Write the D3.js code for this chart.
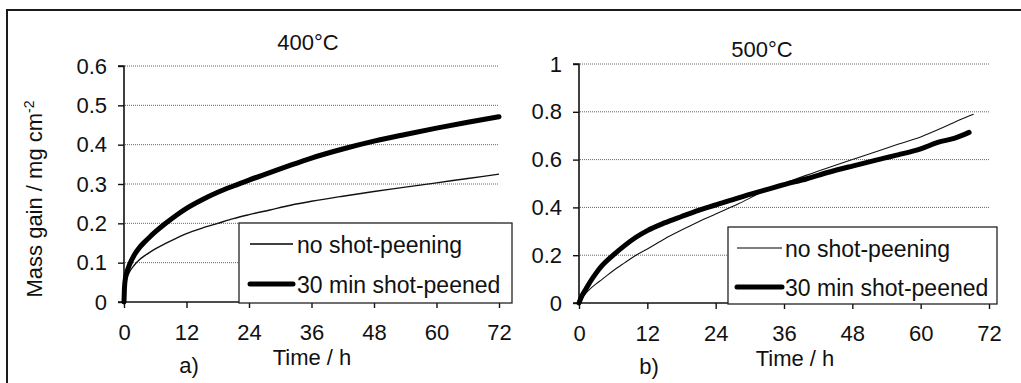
<!DOCTYPE html>
<html><head><meta charset="utf-8">
<script src="https://cdn.jsdelivr.net/npm/d3@7"></script>
<style>
html,body{margin:0;padding:0;background:#fff;}
svg{display:block;font-family:"Liberation Sans",Arial,sans-serif;}
</style></head>
<body>
<svg id="c" width="1021" height="383"></svg>
<script>
// ---------- data ----------
const xTicks = [0, 12, 24, 36, 48, 60, 72];
const yTicksA = [0, 0.1, 0.2, 0.3, 0.4, 0.5, 0.6];
const yTicksB = [0, 0.2, 0.4, 0.6, 0.8, 1];
const seriesNames = ["no shot-peening", "30 min shot-peened"];

// 400°C
const tA_none = [0, 0.1, 0.3, 0.6, 1, 2, 3, 4, 5, 6, 8, 10, 12, 15, 18, 21, 24, 28, 32, 36, 42, 48, 54, 60, 66, 72];
const vA_none = [0, 0.03, 0.05, 0.063, 0.075, 0.094, 0.108, 0.118, 0.127, 0.135, 0.149, 0.162, 0.174, 0.188, 0.2, 0.212, 0.222, 0.234, 0.246, 0.256, 0.269, 0.281, 0.292, 0.303, 0.314, 0.325];
const tA_sp = [0, 0.1, 0.3, 0.6, 1, 2, 3, 4, 5, 6, 8, 10, 12, 15, 18, 21, 24, 28, 32, 36, 42, 48, 54, 60, 66, 72];
const vA_sp = [0, 0.038, 0.062, 0.078, 0.093, 0.12, 0.139, 0.153, 0.166, 0.178, 0.2, 0.22, 0.238, 0.26, 0.279, 0.295, 0.31, 0.329, 0.348, 0.366, 0.389, 0.409, 0.426, 0.442, 0.457, 0.471];

// 500°C
const tB_none = [0, 0.5, 1, 2, 3, 4, 6, 8, 10, 12, 15, 18, 21, 24, 28, 32, 36, 40, 44, 48, 52, 56, 60, 64, 67, 69.3];
const vB_none = [0, 0.02, 0.035, 0.06, 0.08, 0.098, 0.135, 0.168, 0.2, 0.226, 0.268, 0.305, 0.34, 0.372, 0.415, 0.462, 0.5, 0.535, 0.568, 0.6, 0.632, 0.664, 0.695, 0.735, 0.768, 0.79];
const tB_sp = [0, 0.5, 1, 2, 3, 4, 6, 8, 10, 12, 15, 18, 21, 24, 28, 32, 36, 40, 44, 48, 52, 56, 60, 63, 66, 68.5];
const vB_sp = [0, 0.03, 0.05, 0.09, 0.125, 0.155, 0.2, 0.24, 0.275, 0.303, 0.335, 0.362, 0.388, 0.41, 0.44, 0.468, 0.495, 0.52, 0.548, 0.573, 0.597, 0.62, 0.645, 0.672, 0.69, 0.714];

// ---------- drawing ----------
const svg = d3.select("#c");
// outer frame
svg.append("rect").attr("x", 7).attr("y", 10).attr("width", 1040).attr("height", 400)
  .attr("fill", "none").attr("stroke", "#1a1a1a").attr("stroke-width", 2);

function panel(cfg) {
  const x = d3.scaleLinear().domain([0, 72]).range([cfg.x0, cfg.x1]);
  const y = d3.scaleLinear().domain([0, cfg.ymax]).range([cfg.y0, cfg.y1]);
  const g = svg.append("g");

  // gridlines
  g.selectAll("line.grid").data(cfg.yTicks.filter(d => d > 0)).enter().append("line")
    .attr("x1", cfg.x0 + 1).attr("x2", cfg.x1).attr("y1", d => y(d)).attr("y2", d => y(d))
    .attr("stroke", "#666").attr("stroke-width", 1).attr("stroke-dasharray", "1,1");

  // y axis
  const ya = d3.axisLeft(y).tickValues(cfg.yTicks).tickSize(6).tickPadding(11)
    .tickFormat(d => d3.format("")(+d.toFixed(1)));
  const yg = g.append("g").attr("transform", `translate(${cfg.x0},0)`).call(ya);
  // x axis
  const xa = d3.axisBottom(x).tickValues(xTicks).tickSize(6).tickPadding(16).tickFormat(d3.format("d"));
  const xg = g.append("g").attr("transform", `translate(0,${cfg.y0})`).call(xa);
  [yg, xg].forEach(a => {
    a.select(".domain").attr("stroke", "#111").attr("stroke-width", 1.6);
    a.selectAll(".tick line").attr("stroke", "#111").attr("stroke-width", 1.4);
    a.selectAll("text").attr("fill", "#111").style("font-size", "22px").style("font-family", "Liberation Sans, Arial, sans-serif");
  });
  yg.select(".domain").attr("d", `M-6,${cfg.y1}H0V${cfg.y0}`);
  xg.select(".domain").attr("d", `M${cfg.x0 - 6},0H${cfg.x1}`);

  // lines
  const line = d3.line().x(d => x(d[0])).y(d => y(d[1])).curve(d3.curveMonotoneX);
  const dNone = cfg.tNone.map((t, i) => [t, cfg.vNone[i]]);
  const dSp = cfg.tSp.map((t, i) => [t, cfg.vSp[i]]);
  g.append("path").datum(dNone).attr("d", line).attr("fill", "none").attr("stroke", "#111").attr("stroke-width", cfg.thin);
  g.append("path").datum(dSp).attr("d", line).attr("fill", "none").attr("stroke", "#000").attr("stroke-width", 5)
    .attr("stroke-linecap", "round");

  // legend
  const L = cfg.legend;
  g.append("rect").attr("x", L.x).attr("y", L.y).attr("width", L.w).attr("height", L.h)
    .attr("fill", "#fff").attr("stroke", "#222").attr("stroke-width", 1.3);
  const rows = [{w: cfg.thin, ly: L.r1}, {w: 5, ly: L.r2}];
  rows.forEach((r, i) => {
    g.append("line").attr("x1", L.lx0).attr("x2", L.lx1).attr("y1", r.ly).attr("y2", r.ly)
      .attr("stroke", "#000").attr("stroke-width", r.w).attr("stroke-linecap", i ? "round" : "butt");
    g.append("text").attr("x", L.tx).attr("y", r.ly + 9).text(seriesNames[i])
      .style("font-size", "23px").attr("fill", "#111");
  });

  // titles
  g.append("text").attr("x", cfg.title[0]).attr("y", cfg.title[1]).attr("text-anchor", "middle")
    .style("font-size", "22px").attr("fill", "#111").text(cfg.titleText);
  g.append("text").attr("x", cfg.xlab[0]).attr("y", cfg.xlab[1]).attr("text-anchor", "middle")
    .style("font-size", "22px").attr("fill", "#111").text("Time / h");
  g.append("text").attr("x", cfg.tag[0]).attr("y", cfg.tag[1]).attr("text-anchor", "middle")
    .style("font-size", "22px").attr("fill", "#111").text(cfg.tagText);
}

panel({
  x0: 124, x1: 499, y0: 302, y1: 66, ymax: 0.6, yTicks: yTicksA,
  tNone: tA_none, vNone: vA_none, tSp: tA_sp, vSp: vA_sp, thin: 1.4,
  legend: {x: 239, y: 223, w: 273, h: 80, lx0: 250, lx1: 293, r1: 244, r2: 284, tx: 297},
  title: [308, 50], titleText: "400°C", xlab: [312, 365], tag: [189, 373], tagText: "a)"
});
panel({
  x0: 579, x1: 989, y0: 303, y1: 64, ymax: 1, yTicks: yTicksB,
  tNone: tB_none, vNone: vB_none, tSp: tB_sp, vSp: vB_sp, thin: 1.1,
  legend: {x: 728, y: 227, w: 269, h: 77, lx0: 737, lx1: 782, r1: 248, r2: 287, tx: 785},
  title: [762, 57], titleText: "500°C", xlab: [795, 366], tag: [649, 374], tagText: "b)"
});

// y axis title (left panel)
const yt = svg.append("text").attr("transform", "translate(42,199) rotate(-90)")
  .attr("text-anchor", "middle").style("font-size", "22px").attr("fill", "#111");
yt.append("tspan").text("Mass gain / mg cm");
yt.append("tspan").attr("dy", -8).style("font-size", "14px").text("-2");
</script>
</body></html>
